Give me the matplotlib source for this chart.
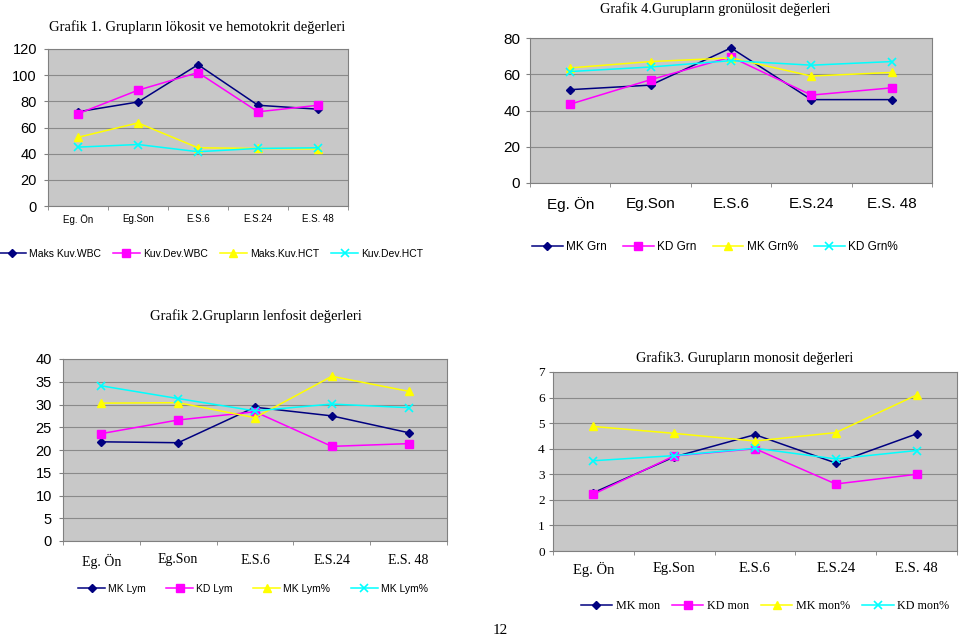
import matplotlib
matplotlib.use("Agg")
import matplotlib.pyplot as plt
import numpy as np

categories = ['Eg. Ön', 'Eg.Son', 'E.S.6', 'E.S.24', 'E.S. 48']

# Grafik 1
g1_names = ['Maks Kuv.WBC', 'Kuv.Dev.WBC', 'Maks.Kuv.HCT', 'Kuv.Dev.HCT']
maks_kuv_wbc = [72, 79.5, 108, 77, 74]
kuv_dev_wbc = [70.5, 88.5, 102, 72, 77]
maks_kuv_hct = [52.5, 63.5, 44.5, 44, 43.5]
kuv_dev_hct = [45, 47, 41.5, 44, 44.5]

# Grafik 4
g4_names = ['MK Grn', 'KD Grn', 'MK Grn%', 'KD Grn%']
mk_grn = [51.5, 54, 74.5, 46, 46]
kd_grn = [43.5, 57, 69.5, 48.5, 52.5]
mk_grn_pct = [63.5, 67, 69, 59, 61]
kd_grn_pct = [61.5, 64, 67.5, 65, 67]

# Grafik 2
g2_names = ['MK Lym', 'KD Lym', 'MK Lym%', 'MK Lym%']
mk_lym = [21.8, 21.6, 29.4, 27.5, 23.8]
kd_lym = [23.6, 26.6, 28.4, 20.8, 21.4]
mk_lym_pct = [30.3, 30.4, 27.1, 36.2, 32.9]
kd_lym_pct = [34.1, 31.3, 28.6, 30.1, 29.3]

# Grafik 3
g3_names = ['MK mon', 'KD mon', 'MK mon%', 'KD mon%']
mk_mon = [2.28, 3.68, 4.55, 3.44, 4.58]
kd_mon = [2.22, 3.72, 4.0, 2.62, 3.0]
mk_mon_pct = [4.87, 4.6, 4.3, 4.63, 6.1]
kd_mon_pct = [3.53, 3.73, 4.02, 3.6, 3.93]

SANS = 'Liberation Sans'
SERIF = 'Liberation Serif'
styles = [
    dict(color='#000080', marker='D', ms=4.5, mfc='#000080', mec='#000080'),
    dict(color='#FF00FF', marker='s', ms=6, mfc='#FF00FF', mec='#FF00FF'),
    dict(color='#FFFF00', marker='^', ms=6, mfc='#FFFF00', mec='#FFFF00'),
    dict(color='#00FFFF', marker='x', ms=6, mew=1.2, mfc='#00FFFF', mec='#00FFFF'),
]

fig = plt.figure(figsize=(9.6, 6.38), dpi=100)


def make_chart(rect, series, names, ymax, ystep, title, title_xy, title_font, title_size,
               tick_font, tick_size, tick_pad, cat_font, cat_size, cat_pad,
               leg_xy, leg_font, leg_size, leg_colsp):
    ax = fig.add_axes(rect)
    ax.set_facecolor('#C8C8C8')
    x = np.arange(len(categories))
    handles = []
    for s, name, st in zip(series, names, styles):
        h, = ax.plot(x, s, lw=1.1, label=name, **st)
        handles.append(h)
    ax.set_xlim(-0.5, len(categories) - 0.5)
    ax.set_ylim(0, ymax)
    ax.set_yticks(np.arange(0, ymax + 0.001, ystep))
    ax.yaxis.grid(True, color='#8A8A8A', lw=0.8)
    ax.set_axisbelow(True)
    ax.set_xticks(x)
    ax.set_xticklabels(categories, fontfamily=cat_font, fontsize=cat_size)
    ax.tick_params(axis='x', length=0, pad=cat_pad)
    ax.set_xticks(np.arange(-0.5, len(categories), 1), minor=True)
    ax.tick_params(axis='x', which='minor', length=3, color='#808080', direction='out')
    ax.tick_params(axis='y', length=3, color='#808080', pad=tick_pad)
    for lab in ax.get_yticklabels():
        lab.set_fontfamily(tick_font)
        lab.set_fontsize(tick_size)
    for sp in ax.spines.values():
        sp.set_color('#808080')
        sp.set_linewidth(0.8)
    fig.text(title_xy[0] / 960, 1 - title_xy[1] / 638, title, ha='center', va='center',
             fontfamily=title_font, fontsize=title_size)
    fig.legend(handles=handles, loc='center', bbox_to_anchor=(leg_xy[0] / 960, 1 - leg_xy[1] / 638),
               ncol=4, frameon=False, handlelength=2.6, handletextpad=0.3,
               columnspacing=leg_colsp, prop={'family': leg_font, 'size': leg_size})
    return ax


make_chart([48 / 960, 1 - 206 / 638, 300 / 960, 157 / 638],
           [maks_kuv_wbc, kuv_dev_wbc, maks_kuv_hct, kuv_dev_hct], g1_names, 120, 20,
           'Grafik 1. Grupların lökosit ve hemotokrit değerleri', (197, 27), SERIF, 10.5,
           SANS, 10.5, 5, SANS, 7, 6, (211, 254), SANS, 7.5, 1.15)

make_chart([530 / 960, 1 - 183 / 638, 402 / 960, 145 / 638],
           [mk_grn, kd_grn, mk_grn_pct, kd_grn_pct], g4_names, 80, 20,
           'Grafik 4.Gurupların gronülosit değerleri', (715, 9), SERIF, 10.4,
           SANS, 11, 4, SANS, 11, 10, (715, 247), SANS, 8.5, 1.35)

make_chart([63 / 960, 1 - 541 / 638, 384 / 960, 182 / 638],
           [mk_lym, kd_lym, mk_lym_pct, kd_lym_pct], g2_names, 40, 5,
           'Grafik 2.Grupların lenfosit değerleri', (256, 316), SERIF, 10.5,
           SANS, 10.5, 5, SERIF, 10, 9, (253, 589), SANS, 7.5, 1.95)

make_chart([553 / 960, 1 - 551 / 638, 404 / 960, 179 / 638],
           [mk_mon, kd_mon, mk_mon_pct, kd_mon_pct], g3_names, 7, 1,
           'Grafik3. Gurupların monosit değerleri', (745, 358), SERIF, 10.3,
           SERIF, 9.5, 3, SERIF, 10.5, 8, (765, 606), SERIF, 8.7, 1.0)

fig.text(500 / 960, 1 - 630 / 638, '12', ha='center', va='center', fontfamily=SERIF, fontsize=11)

fig.savefig('out.png', dpi=100)
